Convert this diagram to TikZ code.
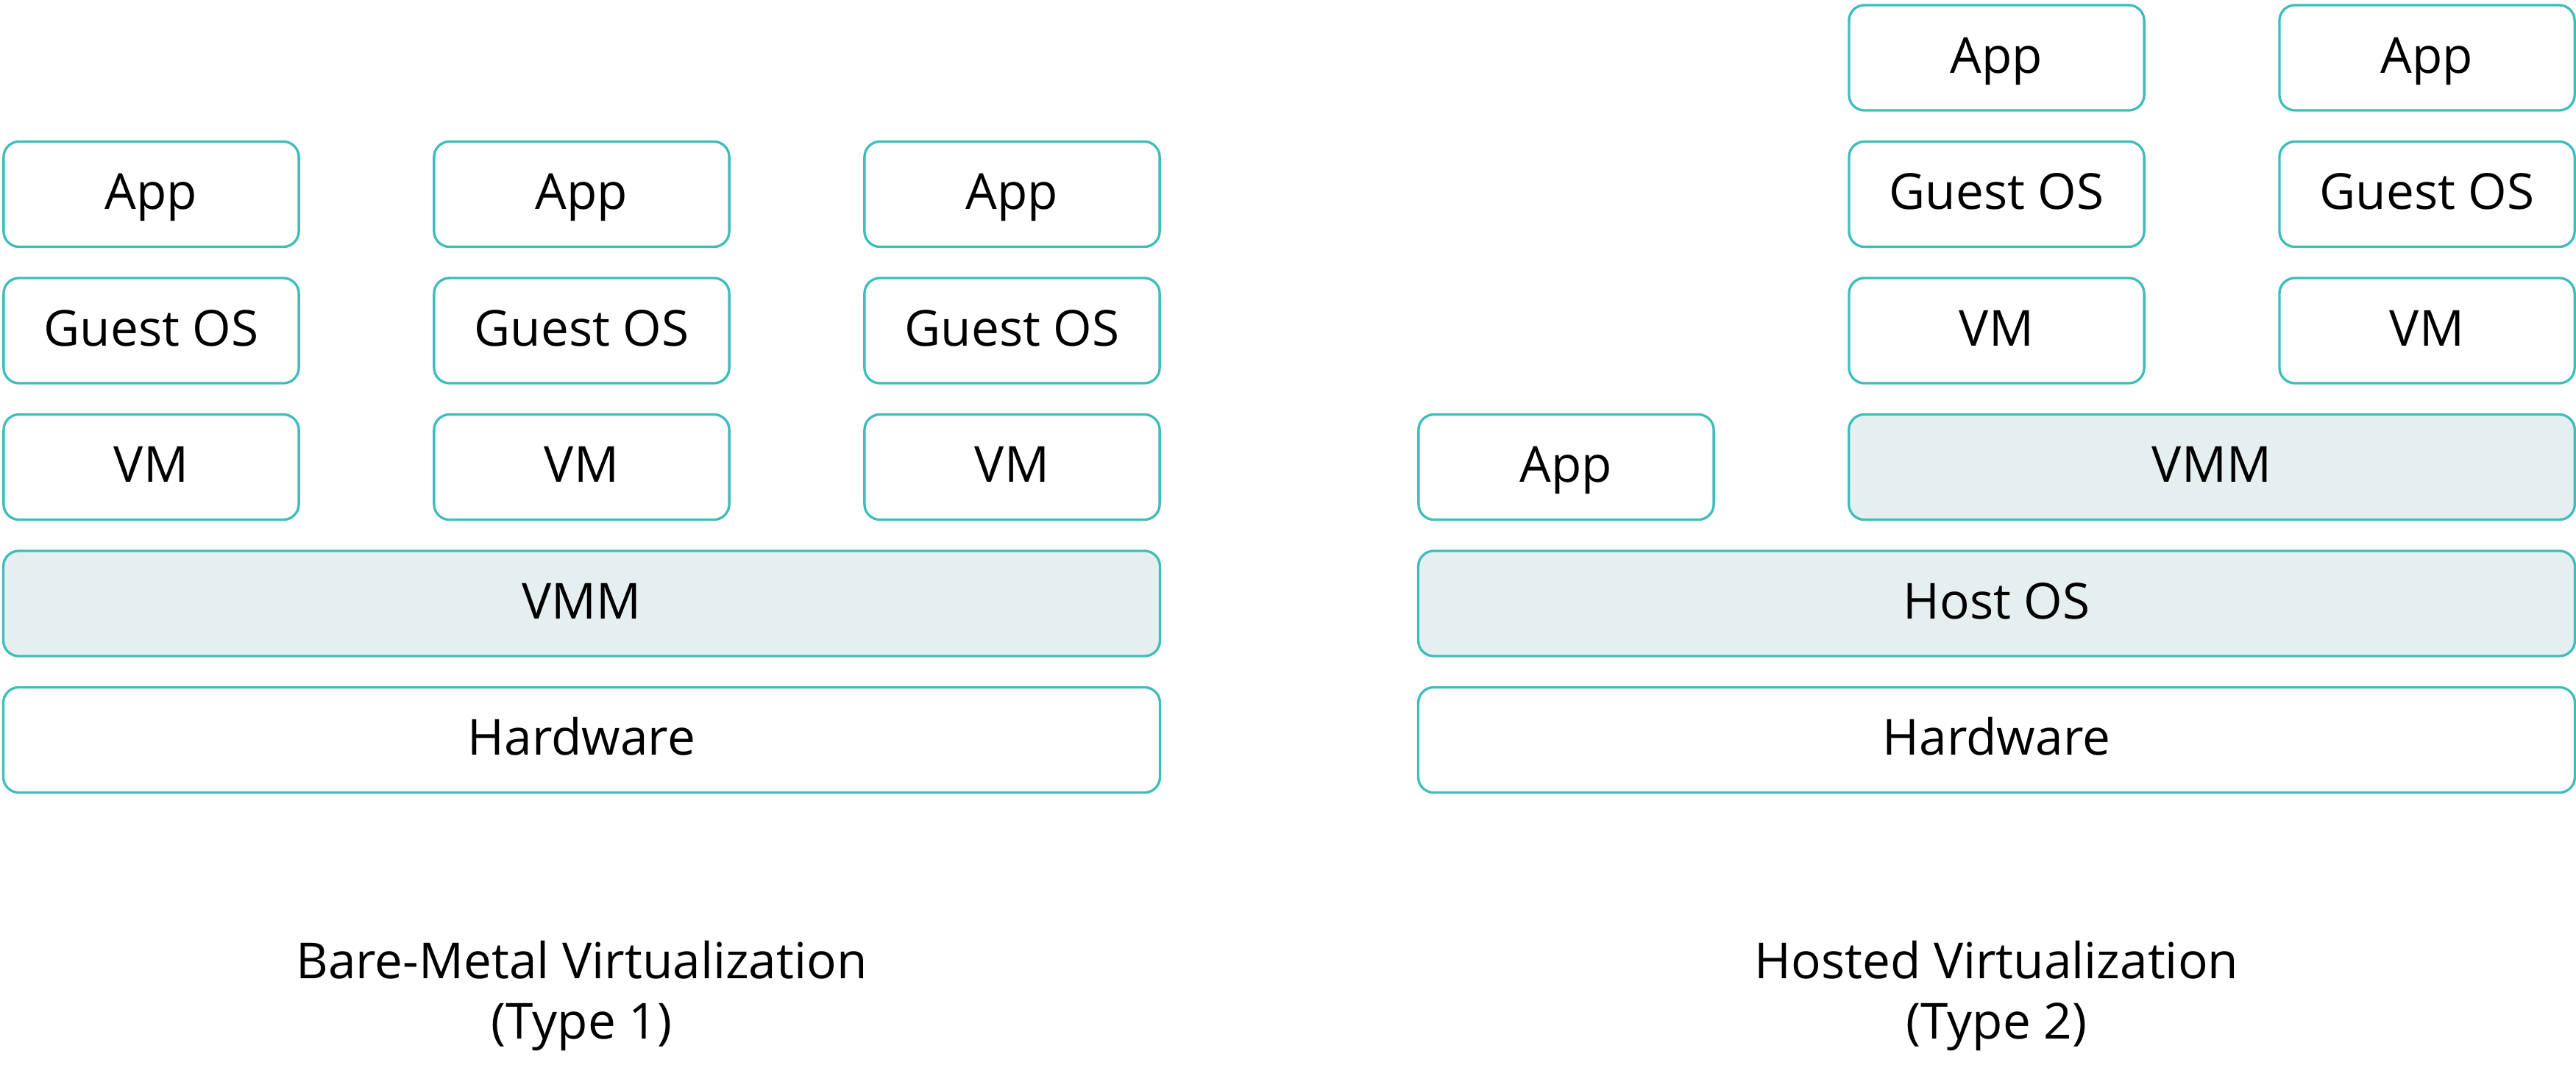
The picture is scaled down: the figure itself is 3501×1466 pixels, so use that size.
\documentclass[tikz,border=0pt]{standalone}
\usepackage{fontspec}
\setmainfont{Open Sans}
\definecolor{edgeteal}{HTML}{3FBDBD}
\definecolor{softfill}{HTML}{E6EFF0}
\begin{document}
\begin{tikzpicture}[x=0.01cm,y=-0.01cm,
  layer/.style={draw=edgeteal,line width=0.95pt,rounded corners=0.21cm,
    minimum height=1.43cm,inner sep=0pt,outer sep=0pt,
    text height=13.8pt,text depth=2.1pt,
    font=\fontsize{19.2}{23}\selectfont},
  narrow/.style={layer,minimum width=4.01cm,fill=white},
  shaded/.style={layer,fill=softfill},
  caption/.style={align=center,font=\fontsize{19.2}{23.3}\selectfont}]
\useasboundingbox (0,0) rectangle (3501,1466);
% left stack
\foreach \c/\x in {1/205.5,2/790.5,3/1375.5}{
  \node[narrow] (lapp\c) at (\x,264) {App};
  \node[narrow] (los\c) at (\x,449.5) {Guest OS};
  \node[narrow] (lvm\c) at (\x,635) {VM};
}
\node[shaded,minimum width=15.71cm] (lvmm) at (790.5,820.5) {VMM};
\node[layer,minimum width=15.71cm,fill=white] (lhw) at (790.5,1006) {Hardware};
\node[caption] (lcap) at (790.5,1354) {Bare-Metal Virtualization\\(Type 1)};
% right stack
\foreach \c/\x in {1/2713.5,2/3298.5}{
  \node[narrow] (rapp\c) at (\x,78.5) {App};
  \node[narrow] (ros\c) at (\x,264) {Guest OS};
  \node[narrow] (rvm\c) at (\x,449.5) {VM};
}
\node[narrow] (rapp0) at (2128.5,635) {App};
\node[shaded,minimum width=9.86cm] (rvmm) at (3006,635) {VMM};
\node[shaded,minimum width=15.71cm] (rhost) at (2713.5,820.5) {Host OS};
\node[layer,minimum width=15.71cm,fill=white] (rhw) at (2713.5,1006) {Hardware};
\node[caption] (rcap) at (2713.5,1354) {Hosted Virtualization\\(Type 2)};
\end{tikzpicture}
\end{document}
